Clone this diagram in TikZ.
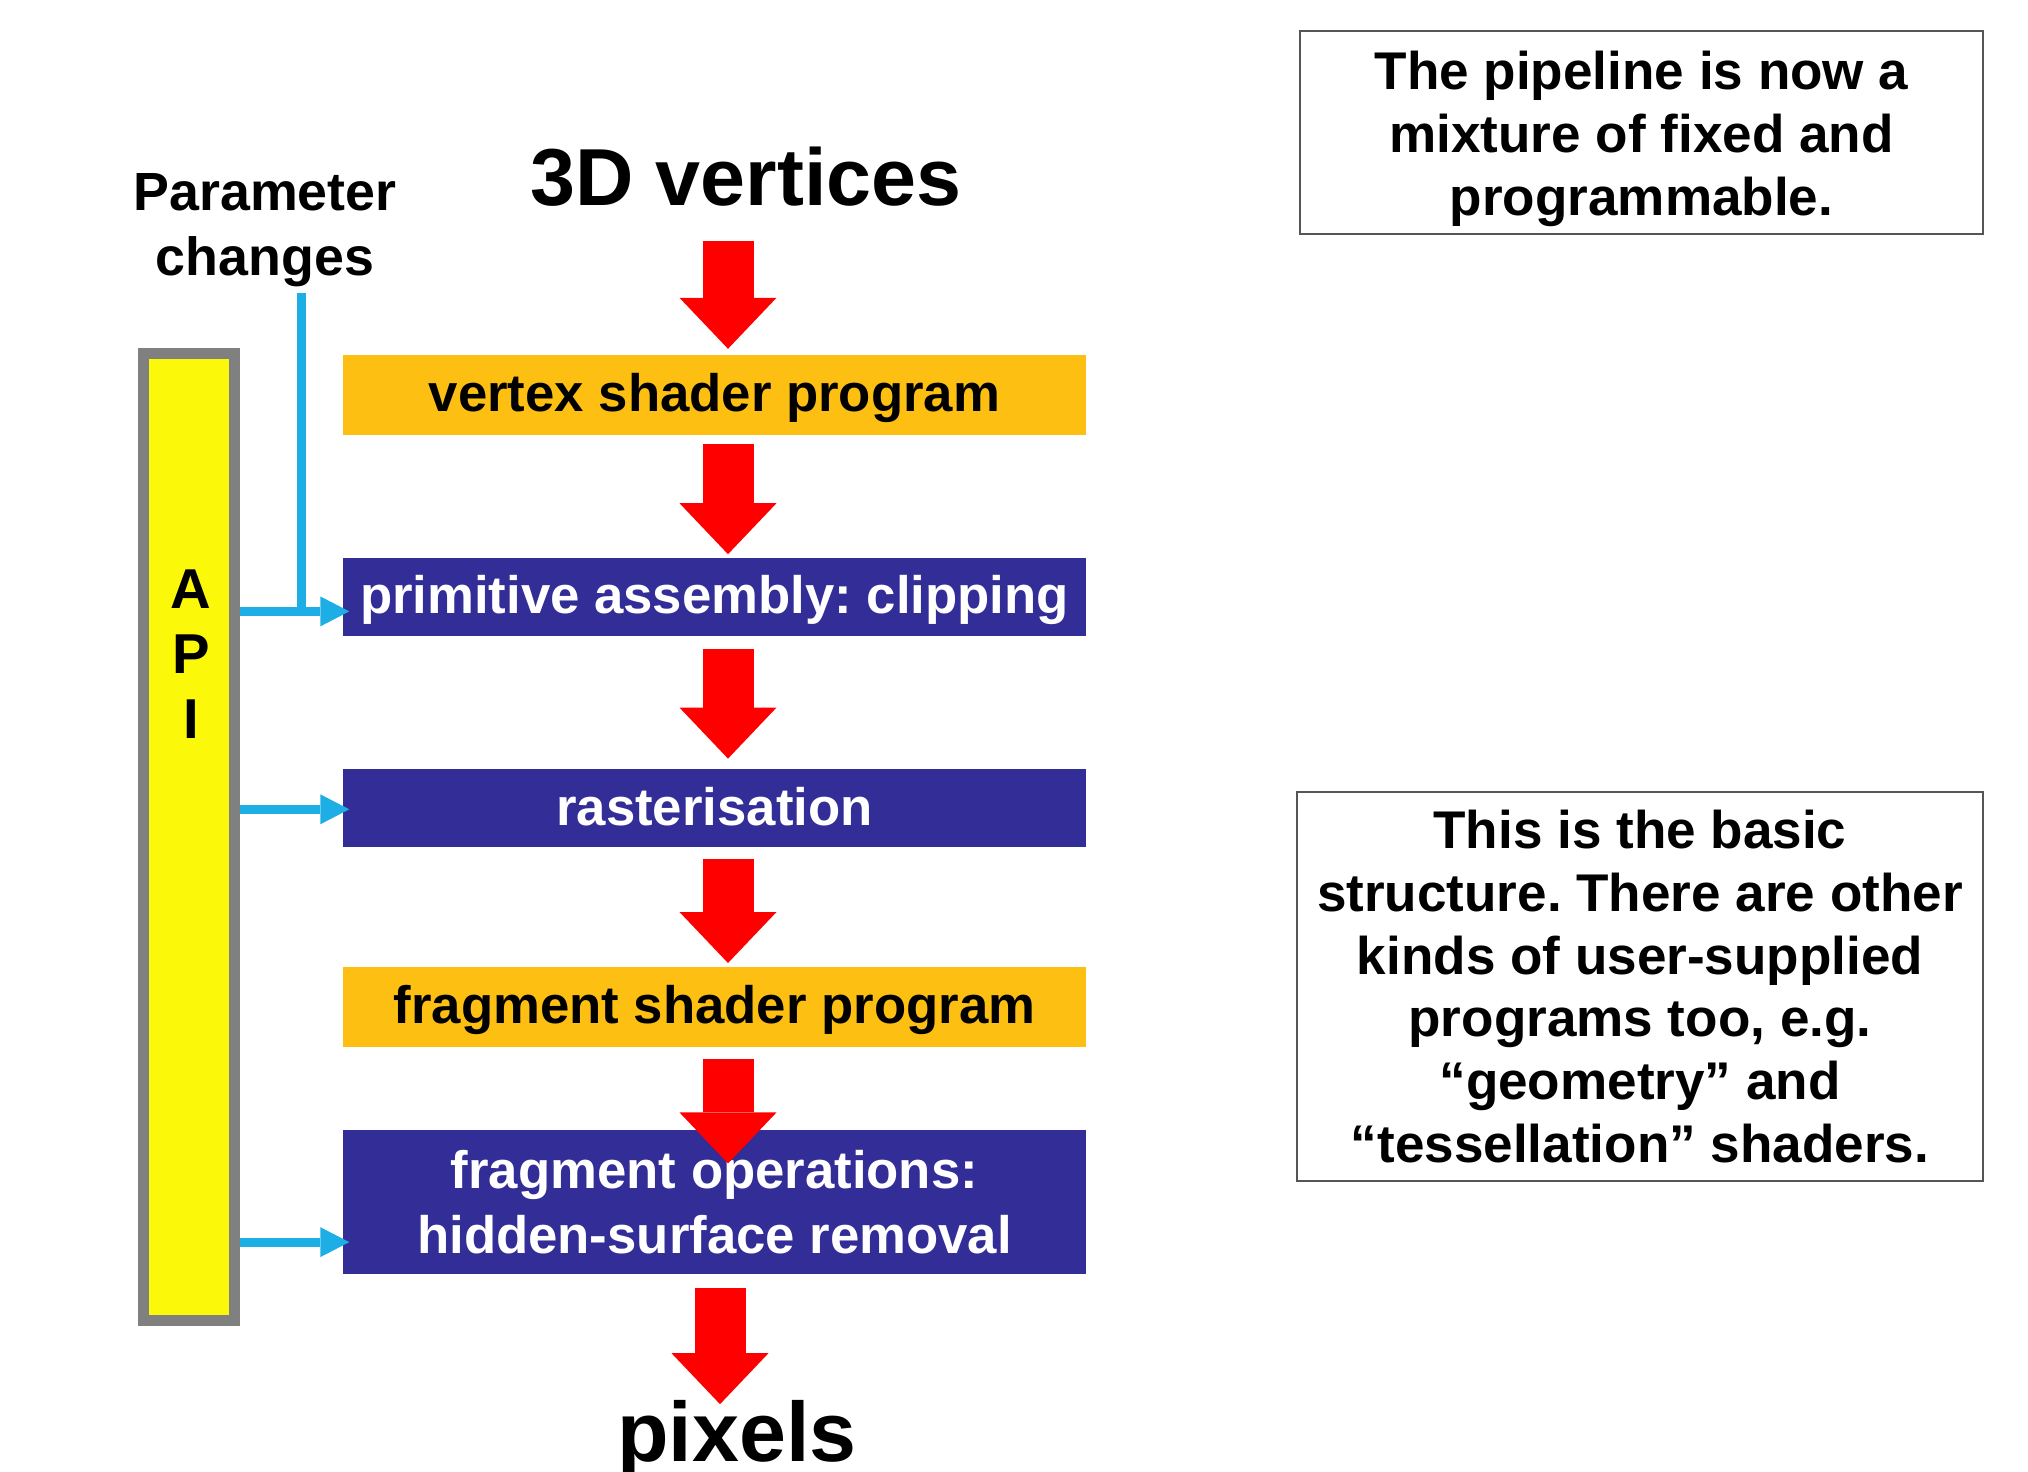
\documentclass[tikz,border=0pt]{standalone}
\usepackage{fontspec}
\setmainfont{Liberation Sans}
\usepackage{tikz}
\usetikzlibrary{positioning, arrows.meta}
\frenchspacing
\definecolor{shader}{HTML}{FDBF12}
\definecolor{fixed}{HTML}{332D97}
\definecolor{apiyellow}{HTML}{FCF80A}
\definecolor{apigray}{HTML}{808080}
\definecolor{param}{HTML}{1DAEE6}
\definecolor{flow}{HTML}{FF0000}
\definecolor{notegray}{HTML}{555555}
\tikzset{
  progbox/.style   = {rectangle, fill=shader, minimum width=7.43cm, minimum height=0.80cm,
                      inner ysep=0pt, align=center, text=black,
                      font=\fontsize{15}{18.5}\selectfont\bfseries},
  fixbox/.style    = {rectangle, fill=fixed, minimum width=7.43cm, minimum height=0.78cm,
                      inner ysep=0pt, align=center, text=white,
                      font=\fontsize{15}{18.5}\selectfont\bfseries},
  oneline/.style   = {text height=11.7pt, text depth=2.1pt},
  title/.style     = {inner sep=0pt, anchor=base, font=\fontsize{23}{27}\selectfont\bfseries},
  apibar/.style    = {rectangle, draw=apigray, fill=apiyellow, line width=1.1mm,
                      minimum width=0.91cm, minimum height=9.67cm, inner sep=0pt},
  note/.style      = {rectangle, draw=notegray, line width=0.8pt, align=center,
                      font=\fontsize{15.1}{17.9}\selectfont\bfseries},
  flowarr/.style   = {draw=flow, line width=5.1mm,
                      -{Triangle[length=5.1mm, width=9.7mm, line width=0pt]}},
  apiarr/.style    = {draw=param, line width=0.9mm,
                      -{Triangle[length=2.9mm, width=3mm, line width=0pt]}},
  paramline/.style = {draw=param, line width=0.9mm},
}

\begin{document}
\begin{tikzpicture}
  \useasboundingbox (0,0) rectangle (20.28,-14.72);

  % ----- pipeline stages -----
  \node[title] (vtx) at (7.46,-2.06) {3D vertices};
  \node[progbox, oneline] (vsh) at (7.145,-3.945) {vertex shader program};
  \node[fixbox, oneline, below=1.22cm of vsh] (prim) {primitive assembly: clipping};
  \node[fixbox, oneline, below=1.32cm of prim] (rast) {rasterisation};
  \node[progbox, oneline, below=1.18cm of rast] (fsh) {fragment shader program};
  \node[fixbox, below=0.82cm of fsh, minimum height=1.44cm] (fops)
       {fragment operations:\\hidden-surface removal};
  \node[title, font=\fontsize{24}{28}\selectfont\bfseries] (pix) at (7.37,-14.61) {pixels};

  % ----- red flow arrows -----
  \coordinate (ax) at (7.28,0);
  \coordinate (bx) at (7.20,0);
  \draw[flowarr, shorten <=0.33cm, shorten >=0.05cm] (vtx.south -| ax) -- (vsh.north -| ax);
  \draw[flowarr, shorten <=0.09cm, shorten >=0.03cm] (vsh.south -| ax) -- (prim.north -| ax);
  \draw[flowarr, shorten <=0.12cm, shorten >=0.10cm] (prim.south -| ax) -- (rast.north -| ax);
  \draw[flowarr, shorten <=0.11cm, shorten >=0.03cm] (rast.south -| ax) -- (fsh.north -| ax);
  \draw[flowarr, shorten <=0.12cm, shorten >=-0.34cm] (fsh.south -| ax) -- (fops.north -| ax);
  \draw[flowarr, shorten <=0.13cm, shorten >=-0.05cm] (fops.south -| bx) -- (pix.north -| bx);

  % ----- API and parameter changes -----
  \node[apibar] (api) at (1.885,-8.37) {};
  \node[align=center, font=\fontsize{16}{18.4}\selectfont\bfseries] (apilbl) at (1.91,-6.54) {A\\P\\I};
  \node[align=center, font=\fontsize{15.3}{18.5}\selectfont\bfseries] (parm) at (2.65,-2.305)
       {Parameter\\changes};

  \coordinate (px) at (3.01,0);
  \coordinate (pin) at ([yshift=-0.145cm]prim.west);
  \coordinate (rin) at ([yshift=-0.01cm]rast.west);
  \coordinate (fin) at ([yshift=-0.40cm]fops.west);
  \draw[paramline, shorten <=-0.065cm] (parm.south -| px) -- (px |- pin);
  \draw[apiarr, shorten >=-0.07cm] (api.east |- pin) -- (pin);
  \draw[apiarr, shorten >=-0.07cm] (api.east |- rin) -- (rin);
  \draw[apiarr, shorten >=-0.07cm] (api.east |- fin) -- (fin);

  % ----- notes -----
  \node[note, inner ysep=0pt, minimum width=6.83cm, minimum height=2.03cm] (note1) at (16.415,-1.325)
       {\rule{0pt}{0.52cm}The pipeline is now a\\mixture of fixed and\\programmable.};
  \node[note, minimum width=6.86cm, minimum height=3.89cm] (note2) at (16.40,-9.865)
       {This is the basic\\structure. There are other\\kinds of user-supplied\\programs too, e.g.\\“geometry” and\\“tessellation” shaders.};

\end{tikzpicture}
\end{document}
